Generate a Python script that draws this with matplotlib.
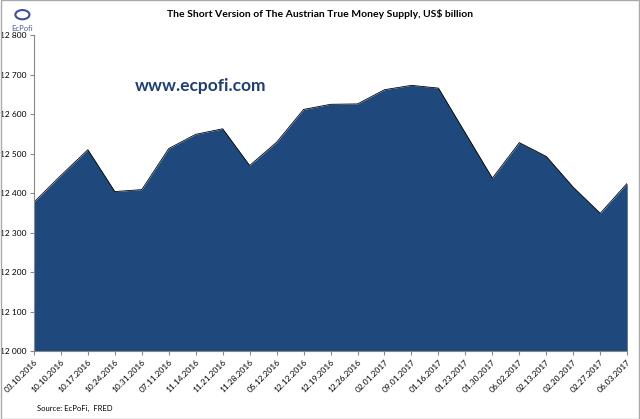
import matplotlib.pyplot as plt
import numpy as np
from matplotlib.ticker import FuncFormatter

plt.rcParams['font.family'] = ['Lato', 'DejaVu Sans']

# weekly data points
dates = ['03.10.2016', '10.10.2016', '10.17.2016', '10.24.2016', '10.31.2016',
         '07.11.2016', '11.14.2016', '11.21.2016', '11.28.2016', '05.12.2016',
         '12.12.2016', '12.19.2016', '12.26.2016', '02.01.2017', '09.01.2017',
         '01.16.2017', '01.23.2017', '01.30.2017', '06.02.2017', '02.13.2017',
         '02.20.2017', '02.27.2017', '06.03.2017']
supply = [12377, 12445, 12510, 12404, 12409, 12513, 12549, 12563, 12470, 12529,
          12612, 12625, 12626, 12662, 12673, 12666, 12552, 12438, 12528, 12493,
          12415, 12349, 12425]
y_ticks = [12000, 12100, 12200, 12300, 12400, 12500, 12600, 12700, 12800]

fig = plt.figure(figsize=(6.4, 4.19), dpi=100)
ax = fig.add_axes([0.053, 0.162, 0.927, 0.754])

x = np.arange(len(dates))
ax.fill_between(x, supply, 12000, color='#1F497D', linewidth=0)
ax.plot(x, supply, color='black', linewidth=0.6)

ax.set_xlim(0, len(dates) - 1)
ax.set_ylim(12000, 12800)
ax.set_yticks(y_ticks)
ax.yaxis.set_major_formatter(FuncFormatter(lambda v, p: '{:,.0f}'.format(v).replace(',', ' ')))
ax.set_xticks(x)
ax.set_xticklabels(dates, rotation=45, ha='right', rotation_mode='anchor', fontsize=6)
ax.tick_params(axis='y', labelsize=6, length=3, color='#888888', pad=2)
ax.tick_params(axis='x', length=3, color='#888888', pad=2)
for s in ['top', 'right']:
    ax.spines[s].set_visible(False)
for s in ['left', 'bottom']:
    ax.spines[s].set_color('#888888')
    ax.spines[s].set_linewidth(0.8)

fig.text(0.5, 0.967, 'The Short Version of The Austrian True Money Supply, US$ billion',
         ha='center', va='center', fontsize=7.5, fontweight='bold')
ax.text(0.17, 0.84, 'www.ecpofi.com', transform=ax.transAxes, fontsize=12.5,
        fontweight='bold', color='#1F3F73', ha='left', va='center')
fig.text(0.058, 0.026, 'Source: EcPoFi,  FRED', fontsize=5.5, ha='left', va='center')

# small logo placeholder
fig.text(0.035, 0.933, 'EcPofi', fontsize=5.5, color='#4A5A9A', ha='center', va='center')
fig.patches.append(plt.Circle((0.035, 0.965), 0.011, transform=fig.transFigure,
                              facecolor='none', edgecolor='#3F4F9F', linewidth=1.5))

# figure frame
fig.patches.append(plt.Rectangle((0.001, 0.001), 0.998, 0.998, transform=fig.transFigure,
                                 facecolor='none', edgecolor='#AAAAAA', linewidth=1))

fig.savefig('out.png', dpi=100)
